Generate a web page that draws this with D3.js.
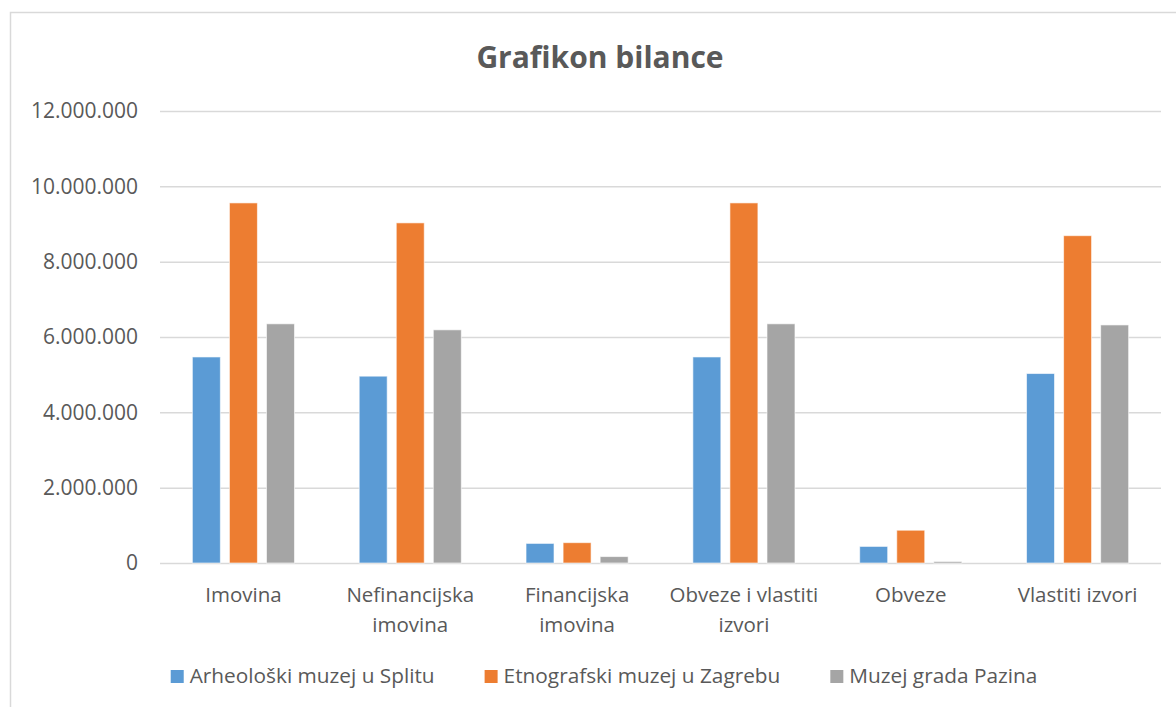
<!DOCTYPE html>
<html>
<head>
<meta charset="utf-8">
<script src="https://cdn.jsdelivr.net/npm/d3@7"></script>
<style>
  body { margin: 0; background: #fff; }
  text { font-family: "Open Sans", sans-serif; fill: #595959; }
</style>
</head>
<body>
<div id="chart"></div>
<script>
// data
var categories = ["Imovina", "Nefinancijska imovina", "Financijska imovina", "Obveze i vlastiti izvori", "Obveze", "Vlastiti izvori"];
var categoryLines = [["Imovina"], ["Nefinancijska", "imovina"], ["Financijska", "imovina"], ["Obveze i vlastiti", "izvori"], ["Obveze"], ["Vlastiti izvori"]];
var seriesNames = ["Arheološki muzej u Splitu", "Etnografski muzej u Zagrebu", "Muzej grada Pazina"];
var splitValues  = [5470000, 4960000, 520000, 5470000, 440000, 5030000];
var zagrebValues = [9560000, 9030000, 540000, 9560000, 870000, 8690000];
var pazinValues  = [6350000, 6190000, 170000, 6350000, 40000, 6320000];
var yTicks = [0, 2000000, 4000000, 6000000, 8000000, 10000000, 12000000];
var colors = ["#5B9BD5", "#ED7D31", "#A5A5A5"];

var allValues = [splitValues, zagrebValues, pazinValues];

var width = 1176, height = 707;
var margin = { top: 111, bottom: 144, left: 160, right: 15 };

var svg = d3.select("#chart")
  .append("svg")
  .attr("width", width)
  .attr("height", height);

// chart area border (cropped on the right and bottom)
svg.append("path")
  .attr("d", "M10.5," + height + "V12.5H" + width)
  .attr("fill", "none")
  .attr("stroke", "#D9D9D9")
  .attr("stroke-width", 1.5);

// title
svg.append("text")
  .attr("x", 600)
  .attr("y", 68)
  .attr("text-anchor", "middle")
  .style("font-size", "30px")
  .style("font-weight", "bold")
  .text("Grafikon bilance");

// scales
var x0 = d3.scaleBand()
  .domain(categories)
  .range([margin.left, width - margin.right])
  .paddingInner(0.388)
  .paddingOuter(0.194);

var x1 = d3.scaleBand()
  .domain(d3.range(seriesNames.length))
  .range([0, x0.bandwidth()])
  .paddingInner(0.245);

var y = d3.scaleLinear()
  .domain([0, 12000000])
  .range([height - margin.bottom, margin.top]);

var fmt = function(d) {
  return d3.format(",")(d).replace(/,/g, ".");
};

// grid lines + y labels
var yAxis = svg.append("g")
  .attr("transform", "translate(" + margin.left + ",0)")
  .call(d3.axisLeft(y)
    .tickValues(yTicks)
    .tickSize(-(width - margin.left - margin.right))
    .tickPadding(22)
    .tickFormat(fmt));
yAxis.select(".domain").remove();
yAxis.selectAll(".tick line")
  .attr("stroke", "#D9D9D9")
  .attr("stroke-width", 1.5);
yAxis.selectAll(".tick text")
  .style("font-size", "21px")
  .style("fill", "#595959")
  .style("font-family", "'Open Sans', sans-serif");

// bars
var groups = svg.selectAll(".group")
  .data(categories)
  .enter().append("g")
  .attr("class", "group")
  .attr("transform", function(d) { return "translate(" + x0(d) + ",0)"; });

groups.selectAll("rect")
  .data(function(d, i) {
    return allValues.map(function(vals, s) { return { s: s, v: vals[i] }; });
  })
  .enter().append("rect")
  .attr("x", function(d) { return x1(d.s); })
  .attr("width", x1.bandwidth())
  .attr("y", function(d) { return y(d.v); })
  .attr("height", function(d) { return y(0) - y(d.v); })
  .attr("fill", function(d) { return colors[d.s]; })
  .attr("stroke", "#fff")
  .attr("stroke-opacity", 0.6)
  .attr("stroke-width", 1);

// category labels
categories.forEach(function(c, i) {
  var t = svg.append("text")
    .attr("x", x0(c) + x0.bandwidth() / 2)
    .attr("y", 602)
    .attr("text-anchor", "middle")
    .style("font-size", "20.5px");
  categoryLines[i].forEach(function(line, j) {
    t.append("tspan")
      .attr("x", x0(c) + x0.bandwidth() / 2)
      .attr("dy", j == 0 ? 0 : 30)
      .text(line);
  });
});

// legend
var legend = svg.append("g");
var legendY = 683;
var pos = 0;
seriesNames.forEach(function(name, i) {
  var item = legend.append("g").attr("transform", "translate(" + pos + ",0)");
  item.append("rect")
    .attr("x", 0)
    .attr("y", legendY - 13)
    .attr("width", 13)
    .attr("height", 13)
    .attr("fill", colors[i]);
  var t = item.append("text")
    .attr("x", 19)
    .attr("y", legendY)
    .style("font-size", "20.8px")
    .text(name);
  pos += 19 + t.node().getComputedTextLength() + 50;
});
var legendWidth = pos - 50;
legend.attr("transform", "translate(" + (604 - legendWidth / 2) + ",0)");
</script>
</body>
</html>
